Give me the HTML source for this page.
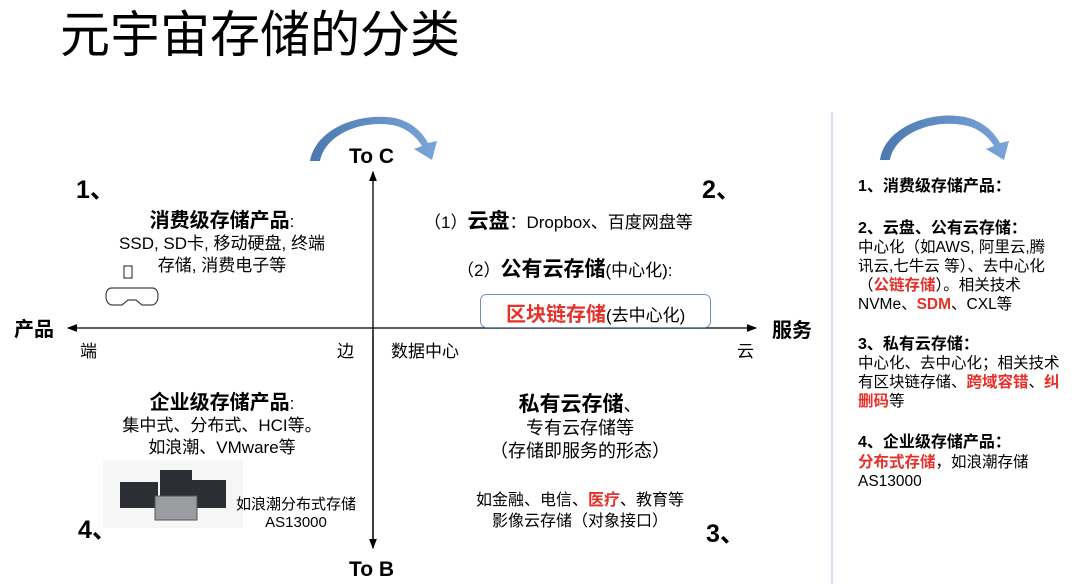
<!DOCTYPE html>
<html><head><meta charset="utf-8"><style>
body{margin:0;width:1080px;height:584px;background:#fff;position:relative;overflow:hidden;font-family:"Liberation Sans","Noto Sans CJK SC",sans-serif;color:#000}
.a{position:absolute;white-space:nowrap;line-height:1}
.b{font-weight:bold}
.c{text-align:center}
.r{color:#e8302a;font-weight:bold}
.rp div{position:absolute;left:858px;font-size:15.5px;white-space:nowrap;line-height:1}
</style></head><body>
<svg width="1080" height="584" style="position:absolute;left:0;top:0">
<defs><marker id="ah" markerWidth="8" markerHeight="8" refX="7" refY="4" orient="auto"><path d="M0,1 L8,4 L0,7 Z" fill="#000"/></marker>
<linearGradient id="g" x1="0" x2="1"><stop offset="0" stop-color="#4a78b0"/><stop offset="1" stop-color="#7aa5d8"/></linearGradient></defs>
<line x1="373" y1="548" x2="373" y2="172" stroke="#000" stroke-width="1.3" marker-end="url(#ah)"/>
<line x1="373" y1="330" x2="373" y2="548" stroke="#000" stroke-width="1.3" marker-end="url(#ah)"/>
<line x1="373" y1="328" x2="68" y2="328" stroke="#000" stroke-width="1.3" marker-end="url(#ah)"/>
<line x1="373" y1="328" x2="756" y2="328" stroke="#000" stroke-width="1.3" marker-end="url(#ah)"/>
<path d="M310,161 C316,128 360,112 395,118 C412,122 422,132 428,143 L437,141 L432,160 L414,149 L422,146 C416,136 405,127 392,125 C360,120 325,135 320,161 Z" fill="url(#g)"/>
<path d="M880,160 C884,128 930,110 965,117 C983,121 994,132 1000,143 L1009,141 L1004,160 L986,149 L994,146 C988,136 977,127 963,125 C930,119 894,135 890,160 Z" fill="url(#g)"/>
<line x1="832" y1="112" x2="832" y2="584" stroke="#c5d5ea" stroke-width="1.5"/>
<rect x="480.5" y="294.5" width="230" height="33" rx="6" fill="#fff" stroke="#6d8fc0" stroke-width="1"/>
<rect x="103" y="460" width="140" height="68" fill="#f6f6f7"/>
<g fill="#2b2e33"><rect x="120" y="482" width="38" height="26"/><rect x="160" y="470" width="32" height="40"/><rect x="190" y="480" width="36" height="28"/></g>
<rect x="155" y="496" width="42" height="24" fill="#9a9ca0" stroke="#555"/>
<g fill="none" stroke="#444" stroke-width="1.2"><rect x="124" y="266" width="8" height="12"/><path d="M112,288 h40 q6,0 6,8 q0,8 -6,9 h-10 l-6,-5 h-8 l-6,5 h-10 q-6,-1 -6,-9 q0,-8 6,-8z"/></g>
</svg>
<div class="a" style="left:60px;top:10px;font-size:50px">元宇宙存储的分类</div>
<div class="a b" style="left:349px;top:146px;font-size:21px">To C</div>
<div class="a b" style="left:349px;top:559px;font-size:21px">To B</div>
<div class="a b" style="left:76px;top:178px;font-size:25px">1、</div>
<div class="a b" style="left:702px;top:178px;font-size:25px">2、</div>
<div class="a b" style="left:706px;top:522px;font-size:25px">3、</div>
<div class="a b" style="left:78px;top:518px;font-size:25px">4、</div>
<div class="a b" style="left:14px;top:320px;font-size:20px">产品</div>
<div class="a b" style="left:772px;top:321px;font-size:20px">服务</div>
<div class="a" style="left:80px;top:343px;font-size:17px">端</div>
<div class="a" style="left:337px;top:343px;font-size:17px">边</div>
<div class="a" style="left:391px;top:343px;font-size:17px">数据中心</div>
<div class="a" style="left:737px;top:343px;font-size:17px">云</div>
<div class="a c" style="left:90px;width:264px;top:210px;font-size:17px;line-height:22px"><span class="b" style="font-size:20px">消费级存储产品</span>:<br>SSD, SD卡, 移动硬盘, 终端<br>存储, 消费电子等</div>
<div class="a" style="left:424px;top:211px;font-size:17px">（1）<span class="b" style="font-size:21px">云盘</span>：Dropbox、百度网盘等</div>
<div class="a" style="left:457px;top:259px;font-size:17px">（2）<span class="b" style="font-size:21px">公有云存储</span>(中心化):</div>
<div class="a" style="left:506px;top:305px;font-size:17px"><span class="r" style="font-size:20px">区块链存储</span>(去中心化)</div>
<div class="a c" style="left:90px;width:264px;top:392px;font-size:17px;line-height:22px"><span class="b" style="font-size:20px">企业级存储产品</span>:<br>集中式、分布式、HCI等。<br>如浪潮、VMware等</div>
<div class="a c" style="left:226px;width:140px;top:496px;font-size:15px;line-height:18px">如浪潮分布式存储<br>AS13000</div>
<div class="a c" style="left:440px;width:280px;top:393px;font-size:18px;line-height:23px"><span class="b" style="font-size:21px">私有云存储</span>、<br>专有云存储等<br>（存储即服务的形态）</div>
<div class="a c" style="left:440px;width:280px;top:490px;font-size:16px;line-height:21px">如金融、电信、<span class="r">医疗</span>、教育等<br>影像云存储（对象接口）</div>
<div class="rp">
<div class="b" style="top:179px;font-size:16px">1、消费级存储产品：</div>
<div class="b" style="top:221px;font-size:16px">2、云盘、公有云存储：</div>
<div style="top:240px">中心化（如AWS, 阿里云,腾</div>
<div style="top:259px">讯云,七牛云 等）、去中心化</div>
<div style="top:278px">（<span class="r">公链存储</span>）。相关技术</div>
<div style="top:297px">NVMe、<span class="r">SDM</span>、CXL等</div>
<div class="b" style="top:337px;font-size:16px">3、私有云存储：</div>
<div style="top:356px">中心化、去中心化；相关技术</div>
<div style="top:375px">有区块链存储、<span class="r">跨域容错</span>、<span class="r">纠</span></div>
<div style="top:394px"><span class="r">删码</span>等</div>
<div class="b" style="top:435px;font-size:16px">4、企业级存储产品：</div>
<div style="top:455px"><span class="r">分布式存储</span>，如浪潮存储</div>
<div style="top:474px">AS13000</div>
</div>
</body></html>
